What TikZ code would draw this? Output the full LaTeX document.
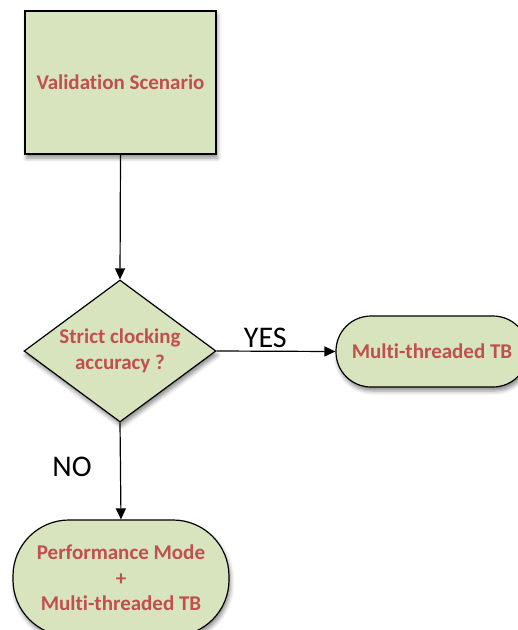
\documentclass[tikz,border=0pt]{standalone}
\usepackage{fontspec}
\setmainfont{Carlito}[Ligatures=NoCommon]
\usetikzlibrary{shapes.geometric,arrows.meta,shadows.blur}
\definecolor{boxfill}{HTML}{D7E4BD}
\definecolor{boxtext}{HTML}{C0504D}
\tikzset{
  x=1pt, y=-1pt,
  shade/.style={blur shadow={shadow xshift=1.5pt, shadow yshift=-4pt, shadow blur radius=4pt, shadow opacity=45}},
  box/.style={draw=black, line width=1.2pt, fill=boxfill, shade},
  boxlabel/.style={text=boxtext, font=\fontsize{21}{25.5}\selectfont\bfseries, align=center},
  flow/.style={draw=black, line width=1.2pt, -{Triangle[length=11pt,width=10pt]}},
  answer/.style={font=\fontsize{30}{32}\selectfont, text=black}
}
\begin{document}
\begin{tikzpicture}
  \useasboundingbox (0,0) rectangle (518,630);
  \clip (0,0) rectangle (518,630);
  % start box
  \node[box, rectangle, minimum width=191pt, minimum height=143pt, inner sep=0pt] (scen) at (120.5,82.5) {};
  \node[boxlabel] (scentext) at (scen) {Validation Scenario};
  % decision
  \node[box, diamond, minimum width=192pt, minimum height=142pt, inner sep=0pt] (q) at (120,351) {};
  \node[boxlabel] (qtext) at (q) {Strict clocking\\accuracy ?};
  % outcomes
  \node[box, rectangle, rounded corners=35pt, minimum width=192pt, minimum height=71pt, inner sep=0pt] (mt) at (432,351.5) {};
  \node[boxlabel] (mttext) at (mt) {Multi-threaded TB};
  \node[box, rectangle, rounded corners=56pt, minimum width=216pt, minimum height=116pt, inner sep=0pt] (perf) at (121,578) {};
  \node[boxlabel] (perftext) at (perf) {Performance Mode\\+\\Multi-threaded TB};
  % connectors
  \draw[flow] (scen.south) -- (q.north);
  \draw[flow] (q.east) -- node[answer, above=0pt, pos=0.41] (yes) {YES} (mt.west);
  \draw[flow] (q.south) -- (perf.north);
  \node[answer] (no) at (72,467) {NO};
\end{tikzpicture}
\end{document}
